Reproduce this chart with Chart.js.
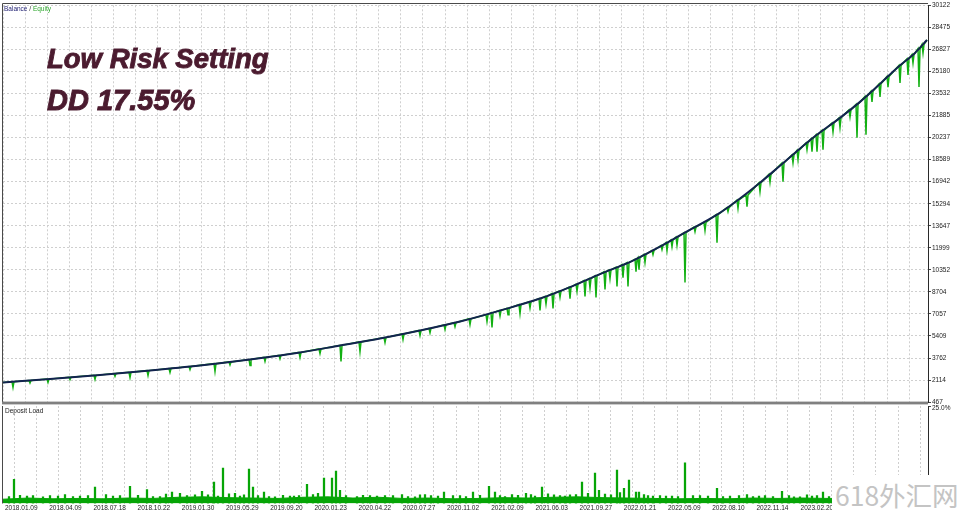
<!DOCTYPE html>
<html>
<head>
<meta charset="utf-8">
<script src="https://cdn.jsdelivr.net/npm/chart.js@4.4.0/dist/chart.umd.min.js"></script>
<style>
  html, body { margin: 0; padding: 0; background: #fff; }
  body { width: 960px; height: 515px; position: relative; overflow: hidden; font-family: 'Liberation Sans', Arial, sans-serif; }
  canvas { position: absolute; left: 0; }
  #mainChart { top: 0; }
  #loadChart { top: 398px; }
  .lbl { position: absolute; font-size: 6.5px; line-height: 8px; white-space: nowrap; }
  .title { position: absolute; left: 47px; color: #4b1b2f; font-weight: bold; font-style: italic;
           font-family: 'Liberation Sans', Arial, sans-serif; white-space: nowrap; -webkit-text-stroke: 0.9px #4b1b2f; }
  #wm { position: absolute; left: 832px; top: 475px; width: 128px; height: 40px; background: #fff; white-space: nowrap;
        color: #c4c4c4; font-family: 'Noto Sans CJK SC', sans-serif; font-size: 26.5px; line-height: 40px; padding-left: 3px; box-sizing: border-box; }
</style>
</head>
<body>
<canvas id="mainChart" width="960" height="407"></canvas>
<canvas id="loadChart" width="960" height="117"></canvas>

<div class="lbl" style="left:4px; top:4.5px;"><span style="color:#1c1c70">Balance</span><span style="color:#333"> / </span><span style="color:#2aa52a">Equity</span></div>
<div class="lbl" style="left:5px; top:406.5px; color:#222;">Deposit Load</div>
<div class="title" style="top:45.3px; font-size:27.5px; line-height:27.5px;">Low Risk Setting</div>
<div class="title" style="top:85.5px; font-size:29px; line-height:29px;">DD 17.55%</div>
<div id="wm">618外汇网</div>

<script>
// x axis = trade number (MT4 tester graph)
const TRADES_MAX = 925;
const GRID_STEP = 22.1;

// balance curve
const balanceTrade = [0, 47, 97, 147, 197, 247, 297, 337, 377, 417, 457, 497, 537, 567, 597,
                      630, 657, 680, 714, 734, 757, 777, 810, 837, 857, 877, 894, 912, 924];
const balanceValue = [1937, 2198, 2497, 2832, 3206, 3653, 4176, 4698, 5220, 5817, 6489, 7310, 8205, 9063, 10033,
                      11041, 12085, 13056, 14473, 15518, 16861, 18130, 20219, 21711, 22905, 24249, 25442, 26561, 27531];

// equity drawdowns: trade, equity low, balance at that trade
const dipTrade = [10, 27, 45, 67, 92, 112, 127, 145, 167, 187, 212, 227, 247, 262, 277, 297, 317, 338, 357, 382,
                  400, 417, 427, 442, 452, 467, 484, 489, 497, 505, 517, 527, 537, 543, 550, 557, 567, 574, 582, 587,
                  593, 602, 607, 614, 620, 625, 633, 636, 642, 650, 659, 664, 669, 674, 682, 692, 702, 714, 725, 735,
                  744, 757, 767, 780, 790, 795, 804, 809, 814, 820, 830, 837, 847, 854, 863, 869, 877, 885, 897, 905,
                  910, 916, 920];
const dipLow = [1564, 1900, 1937, 2150, 2161, 2400, 2310, 2459, 2683, 2900, 2758, 3250, 3206, 3504, 3700, 3803, 4101, 3504, 4250, 4922,
                5146, 5444, 5650, 5892, 6100, 6265, 6489, 6041, 6900, 7000, 7086, 7500, 7310, 7800, 7459, 8300, 8205, 8750, 8354, 9000,
                8280, 8877, 9700, 9101, 9772, 9101, 10220, 10369, 10900, 11488, 11862, 11800, 12085, 12200, 9399, 13205, 13300, 12384, 14697, 14950,
                15070, 16200, 16900, 16936, 18353, 18600, 19324, 19174, 19174, 19324, 20667, 21000, 21786, 20219, 20443, 22900, 23278, 24000, 24323, 24920,
                25815, 24024, 26561];
const dipBalance = [1990, 2085, 2186, 2320, 2467, 2600, 2698, 2819, 2982, 3130, 3340, 3470, 3653, 3810, 3960, 4176, 4437, 4711, 4959, 5290,
                    5560, 5817, 5980, 6237, 6400, 6694, 7002, 7146, 7310, 7480, 7757, 7970, 8205, 8370, 8577, 8760, 9063, 9280, 9548, 9700,
                    9900, 10200, 10340, 10540, 10740, 10890, 11150, 11270, 11500, 11800, 12170, 12390, 12590, 12800, 13130, 13550, 13900, 14473, 15000, 15570,
                    15950, 16861, 17500, 18330, 18950, 19280, 19840, 20150, 20440, 20770, 21320, 21711, 22310, 22720, 23310, 23700, 24249, 24800, 25630, 26130,
                    26440, 26880, 27200];

// right axis labels
const yTickLabels = [467, 2114, 3762, 5409, 7057, 8704, 10352, 11999, 13647, 15294, 16942, 18589,
                     20237, 21885, 23532, 25180, 26827, 28475, 30122];

// date labels, one every second grid line
const dateLabels = ['2018.01.09', '2018.04.09', '2018.07.18', '2018.10.22', '2019.01.30', '2019.05.29', '2019.09.20',
                    '2020.01.23', '2020.04.22', '2020.07.27', '2020.11.02', '2021.02.09', '2021.06.03', '2021.09.27',
                    '2022.01.21', '2022.05.09', '2022.08.10', '2022.11.14', '2023.02.20'];

// deposit load (%)
const loadBaseTrade = [0, 25, 50, 75, 100, 125, 150, 175, 200, 225, 250, 275, 300, 325, 350, 375, 400, 425, 450,
                       475, 500, 525, 550, 575, 600, 625, 650, 675, 700, 725, 750, 775, 800, 825, 850, 875, 900, 925];
const loadBaseValue = [1.1, 1.4, 1.2, 1.3, 1.2, 1.4, 1.3, 1.6, 1.7, 1.5, 1.4, 1.3, 1.6, 1.7, 1.4, 1.6, 1.3, 1.4, 1.2,
                       1.3, 1.5, 1.4, 1.6, 1.7, 1.5, 1.4, 1.3, 1.2, 1.3, 1.2, 1.4, 1.3, 1.4, 1.3, 1.3, 1.4, 1.3, 1.3];
const loadSpikeTrade = [6, 11, 17, 24, 30, 40, 47, 55, 62, 70, 77, 85, 92, 103, 110, 117, 127, 135, 144, 150,
                        157, 163, 169, 177, 184, 192, 199, 205, 211, 215, 220, 226, 232, 237, 241, 246, 250, 255, 261, 266,
                        272, 280, 287, 291, 296, 304, 310, 315, 321, 329, 333, 337, 343, 354, 360, 367, 374, 382, 390, 399,
                        405, 412, 417, 422, 428, 435, 441, 450, 457, 463, 470, 477, 486, 492, 497, 502, 509, 515, 523, 528,
                        532, 539, 545, 551, 557, 562, 567, 573, 579, 585, 592, 596, 602, 608, 614, 617, 621, 626, 633, 636,
                        641, 645, 650, 657, 663, 669, 675, 682, 690, 697, 705, 714, 720, 727, 736, 744, 750, 756, 762, 770,
                        779, 786, 791, 797, 804, 809, 814, 820, 826];
const loadSpikeValue = [1.8, 6.2, 2.1, 1.9, 2.0, 1.7, 2.0, 1.9, 2.3, 1.8, 1.9, 2.0, 4.2, 2.3, 1.9, 2.0, 4.4, 2.1, 3.6, 1.8,
                        1.8, 2.4, 2.9, 2.6, 2.0, 2.2, 3.1, 2.2, 5.5, 1.9, 9.1, 2.5, 2.6, 1.9, 2.2, 8.8, 4.2, 2.0, 2.9, 1.8,
                        1.7, 2.1, 1.9, 1.9, 2.0, 4.9, 2.3, 2.6, 6.5, 6.5, 8.3, 3.4, 2.0, 1.8, 2.1, 2.0, 1.9, 2.0, 2.0, 2.3,
                        1.8, 1.7, 2.2, 2.3, 2.0, 1.9, 2.9, 2.0, 2.0, 1.8, 2.9, 2.1, 4.4, 2.9, 2.0, 1.8, 2.3, 2.1, 2.6, 2.3,
                        1.9, 4.2, 2.5, 2.2, 2.0, 1.9, 2.2, 2.3, 5.5, 2.6, 7.8, 3.4, 2.4, 2.2, 8.6, 2.8, 3.9, 6.0, 2.9, 2.9,
                        2.3, 2.0, 1.9, 2.0, 1.9, 1.9, 1.8, 10.4, 2.0, 2.0, 1.9, 3.9, 1.8, 1.9, 2.0, 2.3, 1.8, 1.9, 2.0, 1.8,
                        3.1, 2.0, 1.7, 1.7, 2.2, 1.9, 2.0, 2.9, 1.8];

const balanceData = balanceTrade.map((t, i) => ({x: t, y: balanceValue[i]}));
const equityData = [{x: balanceTrade[0], y: balanceValue[0]}];
dipTrade.forEach((t, i) => {
    equityData.push({x: t - 1, y: dipBalance[i]});
    equityData.push({x: t, y: dipLow[i]});
    equityData.push({x: t + 1, y: dipBalance[i]});
});
equityData.push({x: balanceTrade[balanceTrade.length - 1], y: balanceValue[balanceValue.length - 1]});

const TICK_FONT = {family: 'Liberation Sans', size: 6.5};

function gridTicks(scale) {
    const ticks = [];
    for (let k = 0; k * GRID_STEP <= TRADES_MAX; k++) ticks.push({value: k * GRID_STEP});
    scale.ticks = ticks;
}

const framePlugin = {
    id: 'frame',
    afterDraw(chart, args, opts) {
        const {ctx, chartArea: a} = chart;
        ctx.save();
        ctx.strokeStyle = '#4a4a4a';
        ctx.lineWidth = 1;
        ctx.beginPath();
        ctx.moveTo(2.5, opts.top);
        ctx.lineTo(2.5, a.bottom);
        if (opts.drawTop) {
            ctx.moveTo(2.5, opts.top);
            ctx.lineTo(a.right, opts.top);
        }
        ctx.stroke();
        if (opts.separator) {
            ctx.fillStyle = '#808080';
            ctx.fillRect(2, a.bottom - 0.5, a.right - 2, 2.8);
        }
        ctx.restore();
    }
};

Chart.defaults.animation = false;
Chart.defaults.devicePixelRatio = 1;

new Chart(document.getElementById('mainChart'), {
    type: 'line',
    data: {
        datasets: [{
            label: 'Balance',
            data: balanceData,
            borderColor: '#13234f',
            borderWidth: 2,
            pointRadius: 0,
            cubicInterpolationMode: 'monotone'
        }, {
            label: 'Equity',
            data: equityData,
            borderColor: '#12b012',
            borderWidth: 1.5,
            pointRadius: 0,
            tension: 0
        }]
    },
    options: {
        responsive: false,
        layout: {padding: {left: 3, top: 5.3, right: 0, bottom: 4.3}},
        plugins: {
            legend: {display: false},
            tooltip: {enabled: false},
            frame: {top: 3.5, drawTop: true, separator: true}
        },
        scales: {
            x: {
                type: 'linear', min: 0, max: TRADES_MAX,
                afterBuildTicks: gridTicks,
                afterFit: s => { s.height = 0; },
                ticks: {display: false},
                grid: {color: '#cfcfcf', drawTicks: false},
                border: {display: false, dash: [2, 2]}
            },
            y: {
                position: 'right',
                min: 467, max: 30122,
                afterBuildTicks: s => { s.ticks = yTickLabels.map(v => ({value: v})); },
                afterFit: s => { s.width = 32; },
                ticks: {font: TICK_FONT, color: '#222', padding: 1, crossAlign: 'near', callback: v => String(v)},
                grid: {color: '#cfcfcf', tickLength: 3, tickColor: '#444', tickBorderDash: []},
                border: {display: true, color: '#2a2a2a', width: 1, dash: [2, 2]}
            }
        }
    },
    plugins: [framePlugin]
});

new Chart(document.getElementById('loadChart'), {
    type: 'bar',
    data: {
        datasets: [{
            label: 'Deposit Load',
            data: loadSpikeTrade.map((t, i) => ({x: t, y: loadSpikeValue[i]})),
            backgroundColor: '#06a506',
            barThickness: 1.6,
            grouped: false
        }, {
            type: 'line',
            data: loadBaseTrade.map((t, i) => ({x: t, y: loadBaseValue[i]})),
            borderColor: '#06a506',
            backgroundColor: '#06a506',
            borderWidth: 1,
            fill: 'origin',
            pointRadius: 0,
            tension: 0
        }]
    },
    options: {
        responsive: false,
        layout: {padding: {left: 3, top: 8, right: 0, bottom: 0.5}},
        plugins: {
            legend: {display: false},
            tooltip: {enabled: false},
            frame: {top: 8, drawTop: false, separator: false}
        },
        scales: {
            x: {
                type: 'linear', min: 0, max: TRADES_MAX, offset: false,
                afterBuildTicks: gridTicks,
                afterFit: s => { s.height = 11; },
                ticks: {
                    font: TICK_FONT, color: '#222', align: 'start', labelOffset: 2, padding: 1,
                    autoSkip: false, maxRotation: 0,
                    callback: (v, i) => (i % 2 === 0 && dateLabels[i / 2]) ? dateLabels[i / 2] : ''
                },
                grid: {color: '#cfcfcf', drawTicks: false},
                border: {display: false, dash: [2, 2]}
            },
            y: {
                position: 'right',
                min: 0, max: 25,
                afterBuildTicks: s => { s.ticks = [{value: 25}]; },
                afterFit: s => { s.width = 32; },
                ticks: {font: TICK_FONT, color: '#222', padding: 1, crossAlign: 'near', labelOffset: 2,
                        callback: v => v.toFixed(1) + '%'},
                grid: {drawOnChartArea: false, tickLength: 3, tickColor: '#444'},
                border: {display: true, color: '#2a2a2a', width: 1}
            }
        }
    },
    plugins: [framePlugin]
});
</script>
</body>
</html>
